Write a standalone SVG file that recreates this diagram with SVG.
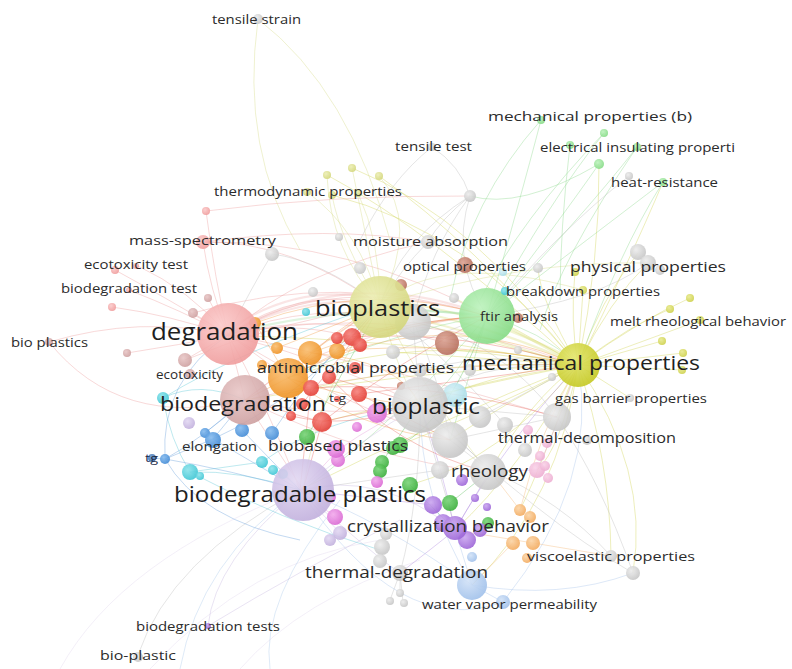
<svg xmlns="http://www.w3.org/2000/svg" width="792" height="669" viewBox="0 0 792 669">
<defs>
<radialGradient id="gK" cx=".38" cy=".35" r=".7"><stop offset="0" stop-color="#ececec"/><stop offset="1" stop-color="#c4c4c4"/></radialGradient>
<radialGradient id="gP" cx=".38" cy=".35" r=".7"><stop offset="0" stop-color="#fbcaca"/><stop offset="1" stop-color="#ef9a9a"/></radialGradient>
<radialGradient id="gD" cx=".38" cy=".35" r=".7"><stop offset="0" stop-color="#e8c6c6"/><stop offset="1" stop-color="#cc9e9e"/></radialGradient>
<radialGradient id="gR" cx=".38" cy=".35" r=".7"><stop offset="0" stop-color="#f6807a"/><stop offset="1" stop-color="#e23b32"/></radialGradient>
<radialGradient id="gO" cx=".38" cy=".35" r=".7"><stop offset="0" stop-color="#f9be70"/><stop offset="1" stop-color="#ee8f1e"/></radialGradient>
<radialGradient id="gY" cx=".38" cy=".35" r=".7"><stop offset="0" stop-color="#e4e770"/><stop offset="1" stop-color="#c3c71e"/></radialGradient>
<radialGradient id="gQ" cx=".38" cy=".35" r=".7"><stop offset="0" stop-color="#eceeb4"/><stop offset="1" stop-color="#d3d67a"/></radialGradient>
<radialGradient id="gL" cx=".38" cy=".35" r=".7"><stop offset="0" stop-color="#bcf2bc"/><stop offset="1" stop-color="#84da84"/></radialGradient>
<radialGradient id="gG" cx=".38" cy=".35" r=".7"><stop offset="0" stop-color="#78d478"/><stop offset="1" stop-color="#38ac38"/></radialGradient>
<radialGradient id="gC" cx=".38" cy=".35" r=".7"><stop offset="0" stop-color="#8ce3eb"/><stop offset="1" stop-color="#3cc5d3"/></radialGradient>
<radialGradient id="gI" cx=".38" cy=".35" r=".7"><stop offset="0" stop-color="#d6f1f6"/><stop offset="1" stop-color="#a6dbe8"/></radialGradient>
<radialGradient id="gB" cx=".38" cy=".35" r=".7"><stop offset="0" stop-color="#84baee"/><stop offset="1" stop-color="#3f88d4"/></radialGradient>
<radialGradient id="gN" cx=".38" cy=".35" r=".7"><stop offset="0" stop-color="#6a9ad0"/><stop offset="1" stop-color="#3a6aa8"/></radialGradient>
<radialGradient id="gV" cx=".38" cy=".35" r=".7"><stop offset="0" stop-color="#e2d8f2"/><stop offset="1" stop-color="#c0aedc"/></radialGradient>
<radialGradient id="gM" cx=".38" cy=".35" r=".7"><stop offset="0" stop-color="#f2aaec"/><stop offset="1" stop-color="#d966d2"/></radialGradient>
<radialGradient id="gU" cx=".38" cy=".35" r=".7"><stop offset="0" stop-color="#caa6ef"/><stop offset="1" stop-color="#9a62d6"/></radialGradient>
<radialGradient id="gS" cx=".38" cy=".35" r=".7"><stop offset="0" stop-color="#f9d2e8"/><stop offset="1" stop-color="#ecacd0"/></radialGradient>
<radialGradient id="gA" cx=".38" cy=".35" r=".7"><stop offset="0" stop-color="#fbd4a6"/><stop offset="1" stop-color="#f2a85a"/></radialGradient>
<radialGradient id="gW" cx=".38" cy=".35" r=".7"><stop offset="0" stop-color="#d2e2f7"/><stop offset="1" stop-color="#9ebfea"/></radialGradient>
<radialGradient id="gT" cx=".38" cy=".35" r=".7"><stop offset="0" stop-color="#daa292"/><stop offset="1" stop-color="#b46a58"/></radialGradient>
<radialGradient id="gZ" cx=".38" cy=".35" r=".7"><stop offset="0" stop-color="#e8ea90"/><stop offset="1" stop-color="#cdd04a"/></radialGradient>
</defs>
<style>
.e{fill:none;stroke-width:1;stroke-opacity:.4}
.w{stroke-width:2.2;stroke-opacity:.28}
.f{stroke-opacity:.22}
.ep{stroke:#eea0a0}.ey{stroke:#d2d558}.eq{stroke:#d8db8a}.eg{stroke:#8fd98f}.ek{stroke:#bdbdbd}
.eo{stroke:#f2a04a}.er{stroke:#e86a60}.ec{stroke:#5cc8d8}.eb{stroke:#6aa0dc}.el{stroke:#c7b8e0}
.em{stroke:#e39ad9}.eu{stroke:#b08adf}.ea{stroke:#f6b877}.ew{stroke:#a9c5ea}.eG{stroke:#5cc05c}
.K{fill:url(#gK)}.P{fill:url(#gP)}.D{fill:url(#gD)}.R{fill:url(#gR)}.O{fill:url(#gO)}.Y{fill:url(#gY)}
.Q{fill:url(#gQ)}.L{fill:url(#gL)}.G{fill:url(#gG)}.C{fill:url(#gC)}.I{fill:url(#gI)}.B{fill:url(#gB)}
.N{fill:url(#gN)}.V{fill:url(#gV)}.M{fill:url(#gM)}.U{fill:url(#gU)}.S{fill:url(#gS)}.A{fill:url(#gA)}
.W{fill:url(#gW)}.T{fill:url(#gT)}.Z{fill:url(#gZ)}
circle{fill-opacity:.9}
text{font-family:"Open Sans","Noto Sans","Liberation Sans",sans-serif;fill:#2b2b2b}
.big{fill:#1f1f1f}
</style>
<rect width="792" height="669" fill="#ffffff"/>
<g id="connectors">
<path class="e ep" d="M228,335 Q300,285 380,305"/>
<path class="e ep w" d="M228,335 Q305,292 380,305"/>
<path class="e ep w" d="M228,330 Q300,280 382,300"/>
<path class="e ep" d="M228,335 Q310,300 413,320"/>
<path class="e ep" d="M228,335 Q330,270 487,316"/>
<path class="e ep w" d="M228,335 Q350,262 487,316"/>
<path class="e ep" d="M228,335 Q400,300 578,365"/>
<path class="e ep" d="M228,335 Q330,360 420,405"/>
<path class="e ep" d="M228,335 Q260,390 300,490"/>
<path class="e ep" d="M228,335 L245,400"/>
<path class="e ep" d="M203,242 Q210,290 228,335"/>
<path class="e ep" d="M203,242 Q290,240 380,305"/>
<path class="e ep" d="M115,270 Q170,300 228,335"/>
<path class="e ep" d="M112,307 Q170,315 228,335"/>
<path class="e ep" d="M127,353 Q180,345 228,335"/>
<path class="e ep" d="M136,265 Q190,290 228,335"/>
<path class="e ep" d="M129,290 Q180,310 228,335"/>
<path class="e ep" d="M206,211 Q330,195 470,196"/>
<path class="e ep" d="M206,211 Q215,280 228,335"/>
<path class="e ep" d="M49,342 Q140,315 228,335"/>
<path class="e ep" d="M49,342 Q120,430 245,400"/>
<path class="e ep" d="M193,313 L228,335"/>
<path class="e ep" d="M208,298 L228,335"/>
<path class="e ep" d="M185,360 L228,335"/>
<path class="e ep" d="M245,400 Q330,330 487,316"/>
<path class="e ep" d="M245,400 Q310,350 380,305"/>
<path class="e ep" d="M245,400 Q330,420 420,405"/>
<path class="e ep" d="M203,242 Q330,225 428,242"/>
<path class="e ep" d="M228,334 Q330,400 450,440"/>
<path class="e ep" d="M228,334 Q400,370 557,417"/>
<path class="e ep" d="M228,334 L288,378"/>
<path class="e ep" d="M228,334 Q290,320 352,337"/>
<path class="e ep" d="M245,400 Q420,360 578,365"/>
<path class="e ep" d="M245,400 L303,490"/>
<path class="e ep" d="M245,400 Q370,460 488,472"/>
<path class="e ep" d="M185,360 Q280,320 380,307"/>
<path class="e ep" d="M193,313 Q340,270 487,316"/>
<path class="e ep" d="M203,242 Q350,240 487,316"/>
<path class="e ep" d="M228,334 Q300,270 428,242"/>
<path class="e ep" d="M228,334 Q330,310 447,343"/>
<path class="e ey" d="M578,365 Q640,320 690,298"/>
<path class="e ey" d="M578,365 Q630,325 670,309"/>
<path class="e ey" d="M578,365 L662,341"/>
<path class="e ey" d="M578,365 L683,353"/>
<path class="e ey" d="M578,365 L682,370"/>
<path class="e ey" d="M578,365 L698,321"/>
<path class="e ey" d="M578,365 Q570,320 575,272"/>
<path class="e ey" d="M578,365 L583,290"/>
<path class="e ey" d="M578,365 Q600,300 638,253"/>
<path class="e ey" d="M578,365 Q610,300 648,263"/>
<path class="e ey" d="M578,365 Q600,260 599,164"/>
<path class="e ey" d="M578,365 Q630,260 663,182"/>
<path class="e ey" d="M578,365 Q650,470 633,573"/>
<path class="e ey" d="M578,365 Q610,460 611,556"/>
<path class="e ey" d="M578,365 L630,398"/>
<path class="e ey" d="M578,365 L557,417"/>
<path class="e ey" d="M578,365 Q530,400 490,471"/>
<path class="e ey" d="M578,365 Q500,370 420,405"/>
<path class="e ey" d="M578,365 Q510,400 450,440"/>
<path class="e ey w" d="M578,365 Q480,320 380,305"/>
<path class="e ey w" d="M578,362 Q480,310 382,300"/>
<path class="e ey w" d="M578,368 Q470,330 380,310"/>
<path class="e ey w" d="M578,365 L487,316"/>
<path class="e ey" d="M578,365 Q470,230 332,195"/>
<path class="e ey" d="M578,365 Q480,220 352,168"/>
<path class="e ey" d="M578,365 Q470,240 379,176"/>
<path class="e ey" d="M578,365 Q430,230 327,175"/>
<path class="e ey" d="M578,365 Q520,470 455,530"/>
<path class="e ey" d="M578,365 Q560,500 472,585"/>
<path class="e ey" d="M578,365 Q440,420 300,490"/>
<path class="e ey" d="M578,365 Q420,330 288,378"/>
<path class="e ey" d="M578,365 Q400,340 228,335"/>
<path class="e ey" d="M578,365 Q560,450 537,470"/>
<path class="e ey" d="M578,365 Q540,470 520,510"/>
<path class="e ey" d="M578,365 Q450,390 322,422"/>
<path class="e ey" d="M578,365 Q440,360 311,388"/>
<path class="e ey" d="M578,365 Q490,410 400,445"/>
<path class="e ey" d="M578,365 Q480,380 377,413"/>
<path class="e ey" d="M578,365 Q410,370 245,400"/>
<path class="e ey" d="M578,365 L413,322"/>
<path class="e ey" d="M578,365 L393,352"/>
<path class="e ey" d="M578,365 L447,343"/>
<path class="e ey" d="M578,365 Q520,330 454,298"/>
<path class="e ey" d="M578,365 Q540,300 538,268"/>
<path class="e ey" d="M578,365 Q500,460 410,485"/>
<path class="e eq" d="M380,305 Q340,240 332,195"/>
<path class="e eq" d="M380,305 L352,168"/>
<path class="e eq" d="M380,305 Q360,230 307,192"/>
<path class="e eq" d="M380,305 Q420,220 379,176"/>
<path class="e eq" d="M380,305 Q380,240 358,193"/>
<path class="e eq" d="M380,305 Q330,250 327,175"/>
<path class="e eq" d="M258,19 Q240,150 300,250"/>
<path class="e eq" d="M258,19 Q350,90 390,240"/>
<path class="e eq" d="M380,305 Q440,250 583,290"/>
<path class="e eq" d="M380,305 Q520,260 648,263"/>
<path class="e eq" d="M380,305 Q400,380 420,405"/>
<path class="e eq" d="M380,305 Q320,380 303,490"/>
<path class="e eq" d="M380,305 Q430,400 488,472"/>
<path class="e eg" d="M487,316 Q520,200 541,120"/>
<path class="e eg" d="M487,316 Q550,200 604,133"/>
<path class="e eg" d="M487,316 Q560,220 599,164"/>
<path class="e eg" d="M487,316 Q580,220 637,147"/>
<path class="e eg" d="M487,316 Q600,230 663,182"/>
<path class="e eg" d="M599,164 Q520,210 470,196"/>
<path class="e eg" d="M541,120 Q470,200 450,300"/>
<path class="e eg" d="M570,145 Q560,230 560,300"/>
<path class="e eg" d="M663,182 Q620,250 578,365"/>
<path class="e eg" d="M604,133 Q520,220 480,300"/>
<path class="e eg" d="M637,147 Q560,260 540,330"/>
<path class="e eg w" d="M487,316 Q420,310 380,305"/>
<path class="e eg" d="M487,316 Q460,380 420,405"/>
<path class="e eg" d="M487,316 Q400,330 288,378"/>
<path class="e eg" d="M487,316 Q400,420 303,490"/>
<path class="e eg w" d="M487,316 Q360,300 228,334"/>
<path class="e eg" d="M487,316 L450,440"/>
<path class="e eg" d="M487,316 Q540,330 578,365"/>
<path class="e ek" d="M432,147 Q460,165 470,196"/>
<path class="e ek" d="M432,147 Q390,180 360,240"/>
<path class="e ek" d="M470,196 Q440,220 428,242"/>
<path class="e ek" d="M470,196 Q430,250 413,320"/>
<path class="e ek" d="M470,196 Q400,240 380,305"/>
<path class="e ek" d="M470,196 Q450,260 487,316"/>
<path class="e ek" d="M629,176 Q560,230 487,316"/>
<path class="e ek" d="M428,242 Q400,270 380,305"/>
<path class="e ek" d="M648,263 Q600,300 487,316"/>
<path class="e ek" d="M633,573 Q600,480 557,417"/>
<path class="e ek" d="M611,556 Q560,500 490,471"/>
<path class="e ek" d="M633,573 Q540,520 420,405"/>
<path class="e ek" d="M138,655 Q170,560 300,490"/>
<path class="e ek" d="M400,593 L400,573"/>
<path class="e ek" d="M390,600 L400,573"/>
<path class="e ek" d="M403,602 L400,573"/>
<path class="e ek" d="M400,573 Q420,500 420,405"/>
<path class="e ek" d="M272,254 Q320,260 380,305"/>
<path class="e ek" d="M272,254 Q250,290 228,335"/>
<path class="e ek" d="M413,320 Q440,380 450,440"/>
<path class="e ek" d="M420,405 Q460,440 490,471"/>
<path class="e ek" d="M420,405 L557,417"/>
<path class="e ek" d="M450,440 L490,471"/>
<path class="e ek" d="M420,405 Q470,360 578,365"/>
<path class="e ek" d="M413,322 Q500,340 557,417"/>
<path class="e ek" d="M450,440 L557,417"/>
<path class="e ek" d="M420,405 L455,528"/>
<path class="e ek" d="M480,417 L578,365"/>
<path class="e ek" d="M393,352 L487,316"/>
<path class="e ek" d="M420,370 Q500,350 578,365"/>
<path class="e ek" d="M440,470 L303,490"/>
<path class="e ek" d="M505,425 Q440,350 380,307"/>
<path class="e ek" d="M413,322 L420,405"/>
<path class="e el" d="M208,626 Q215,560 300,490"/>
<path class="e el" d="M208,626 Q300,570 400,520"/>
<path class="e el f" d="M60,669 Q120,560 300,490"/>
<path class="e el f" d="M150,669 Q250,560 380,540"/>
<path class="e el f" d="M240,669 Q300,600 420,560"/>
<path class="e el" d="M300,490 Q380,470 455,530"/>
<path class="e el" d="M300,490 Q360,440 420,405"/>
<path class="e el" d="M300,490 L340,533"/>
<path class="e el" d="M300,490 Q380,560 400,573"/>
<path class="e ec" d="M163,398 Q170,440 190,472"/>
<path class="e ec" d="M190,472 Q240,470 300,490"/>
<path class="e ec" d="M190,472 L262,462"/>
<path class="e ec" d="M163,398 Q200,380 245,400"/>
<path class="e ec" d="M262,462 Q320,420 420,405"/>
<path class="e ec" d="M283,474 L300,490"/>
<path class="e ec" d="M190,472 Q280,520 380,550"/>
<path class="e ec" d="M163,398 Q240,350 380,305"/>
<path class="e eb" d="M165,459 Q200,440 245,400"/>
<path class="e eb" d="M165,459 Q230,470 300,490"/>
<path class="e eb" d="M165,459 L213,439"/>
<path class="e eb" d="M213,439 L245,400"/>
<path class="e eb" d="M213,439 L300,490"/>
<path class="e eb" d="M242,430 L300,490"/>
<path class="e eb" d="M213,439 Q300,400 380,305"/>
<path class="e eb" d="M205,433 L245,400"/>
<path class="e eb" d="M165,459 Q160,380 228,335"/>
<path class="e eb" d="M165,459 Q200,520 300,540"/>
<path class="e eb" d="M272,433 Q320,360 380,305"/>
<path class="e eb" d="M151,458 L165,459"/>
<path class="e eb f" d="M300,490 Q200,560 180,669"/>
<path class="e eb f" d="M340,500 Q260,600 270,669"/>
<path class="e eo" d="M288,378 Q330,330 380,305"/>
<path class="e eo" d="M288,378 Q390,320 487,316"/>
<path class="e eo" d="M288,378 L245,400"/>
<path class="e eo" d="M310,353 L380,305"/>
<path class="e eo" d="M310,353 Q400,360 420,405"/>
<path class="e eo" d="M255,323 L288,378"/>
<path class="e eo" d="M288,378 Q350,400 420,405"/>
<path class="e eo" d="M288,378 Q430,300 578,365"/>
<path class="e eo" d="M310,353 Q400,320 487,316"/>
<path class="e eo" d="M277,348 L380,307"/>
<path class="e eo" d="M337,351 Q460,340 578,365"/>
<path class="e eo" d="M288,378 Q360,430 450,440"/>
<path class="e eo" d="M255,323 Q370,280 487,316"/>
<path class="e er" d="M352,337 Q420,320 487,316"/>
<path class="e er" d="M322,422 Q370,410 420,405"/>
<path class="e er" d="M329,377 L420,405"/>
<path class="e er" d="M359,394 Q470,380 578,365"/>
<path class="e er" d="M311,387 L300,490"/>
<path class="e er" d="M352,337 L380,305"/>
<path class="e er" d="M322,422 L245,400"/>
<path class="e er" d="M352,337 Q460,330 578,365"/>
<path class="e er" d="M322,422 Q400,360 487,316"/>
<path class="e er" d="M311,388 Q430,380 557,417"/>
<path class="e er" d="M329,377 Q400,450 488,472"/>
<path class="e er" d="M359,394 L450,440"/>
<path class="e er" d="M291,416 Q350,430 420,405"/>
<path class="e er" d="M337,338 L413,322"/>
<path class="e er" d="M302,404 L380,307"/>
<path class="e er" d="M322,422 L303,490"/>
<path class="e em" d="M338,450 Q380,420 420,405"/>
<path class="e em" d="M338,450 Q320,470 300,490"/>
<path class="e em" d="M377,413 L420,405"/>
<path class="e em" d="M335,517 L300,490"/>
<path class="e eG" d="M400,445 Q450,420 487,316"/>
<path class="e eG" d="M410,485 L455,530"/>
<path class="e eG" d="M450,503 L490,471"/>
<path class="e eG" d="M382,462 L420,405"/>
<path class="e eG" d="M307,437 L380,305"/>
<path class="e eu" d="M455,530 L490,471"/>
<path class="e eu" d="M455,530 Q430,550 400,573"/>
<path class="e eu" d="M455,530 Q500,450 578,365"/>
<path class="e eu" d="M433,505 L300,490"/>
<path class="e eu" d="M455,530 Q440,460 420,405"/>
<path class="e ea" d="M520,510 L490,471"/>
<path class="e ea" d="M533,543 L455,530"/>
<path class="e ea" d="M611,556 L533,543"/>
<path class="e ea" d="M513,543 L472,585"/>
<path class="e ea" d="M520,510 Q540,430 578,365"/>
<path class="e em" d="M537,470 Q560,420 578,365"/>
<path class="e em" d="M537,470 L490,471"/>
<path class="e ew" d="M472,585 L503,602"/>
<path class="e ew" d="M472,585 L455,530"/>
<path class="e ew" d="M472,585 Q560,600 633,573"/>
<path class="e ew" d="M472,585 Q420,500 420,405"/>
<path class="e ew" d="M503,602 Q600,480 578,365"/>
<path class="e ew" d="M472,585 Q380,520 300,490"/>
<path class="e ew" d="M503,602 Q400,640 300,490"/>
</g>
<g id="nodes-unlabeled">
<g id="u1"><circle class="L" cx="487" cy="316" r="28"/></g>
<g id="u2"><circle class="K" cx="413" cy="322" r="18"/></g>
<g id="u3"><circle class="K" cx="450" cy="440" r="18"/></g>
<g id="u4"><circle class="K" cx="557" cy="417" r="14"/></g>
<g id="u5"><circle class="K" cx="480" cy="417" r="11"/></g>
<g id="u6"><circle class="I" cx="455" cy="395" r="12"/></g>
<g id="u7"><circle class="W" cx="472" cy="585" r="15"/></g>
<g id="u8"><circle class="O" cx="288" cy="378" r="20"/></g>
<g id="u9"><circle class="O" cx="310" cy="353" r="12"/></g>
<g id="u10"><circle class="O" cx="337" cy="351" r="8"/></g>
<g id="u11"><circle class="O" cx="277" cy="348" r="6"/></g>
<g id="u12"><circle class="O" cx="255" cy="323" r="6"/></g>
<g id="u13"><circle class="O" cx="262" cy="365" r="5"/></g>
<g id="u14"><circle class="R" cx="352" cy="337" r="9"/></g>
<g id="u15"><circle class="R" cx="360" cy="345" r="7"/></g>
<g id="u16"><circle class="R" cx="329" cy="377" r="7"/></g>
<g id="u17"><circle class="R" cx="311" cy="388" r="8"/></g>
<g id="u18"><circle class="R" cx="359" cy="394" r="8"/></g>
<g id="u19"><circle class="R" cx="322" cy="422" r="10"/></g>
<g id="u20"><circle class="R" cx="291" cy="416" r="5"/></g>
<g id="u21"><circle class="R" cx="337" cy="338" r="6"/></g>
<g id="u22"><circle class="R" cx="302" cy="404" r="6"/></g>
<g id="u23"><circle class="T" cx="447" cy="343" r="12"/></g>
<g id="u24"><circle class="T" cx="401" cy="386" r="4"/></g>
<g id="u25"><circle class="T" cx="401" cy="285" r="6"/></g>
<g id="u26"><circle class="K" cx="470" cy="196" r="6"/></g>
<g id="u27"><circle class="K" cx="272" cy="254" r="7"/></g>
<g id="u28"><circle class="K" cx="339" cy="237" r="4"/></g>
<g id="u29"><circle class="K" cx="360" cy="268" r="6"/></g>
<g id="u30"><circle class="K" cx="538" cy="268" r="5"/></g>
<g id="u31"><circle class="K" cx="638" cy="252" r="8"/></g>
<g id="u32"><circle class="K" cx="660" cy="270" r="5"/></g>
<g id="u33"><circle class="K" cx="313" cy="292" r="5"/></g>
<g id="u34"><circle class="K" cx="454" cy="298" r="5"/></g>
<g id="u35"><circle class="K" cx="393" cy="352" r="7"/></g>
<g id="u36"><circle class="K" cx="518" cy="350" r="4"/></g>
<g id="u37"><circle class="K" cx="552" cy="377" r="4"/></g>
<g id="u38"><circle class="K" cx="505" cy="425" r="8"/></g>
<g id="u39"><circle class="K" cx="525" cy="450" r="7"/></g>
<g id="u40"><circle class="K" cx="440" cy="470" r="9"/></g>
<g id="u41"><circle class="K" cx="382" cy="547" r="8"/></g>
<g id="u42"><circle class="K" cx="380" cy="561" r="7"/></g>
<g id="u43"><circle class="K" cx="400" cy="593" r="4"/></g>
<g id="u44"><circle class="K" cx="390" cy="601" r="4"/></g>
<g id="u45"><circle class="K" cx="404" cy="603" r="4"/></g>
<g id="u46"><circle class="K" cx="633" cy="573" r="7"/></g>
<g id="u47"><circle class="K" cx="629" cy="176" r="4"/></g>
<g id="u48"><circle class="K" cx="386" cy="534" r="6"/></g>
<g id="u49"><circle class="K" cx="470" cy="370" r="6"/></g>
<g id="u50"><circle class="K" cx="420" cy="370" r="7"/></g>
<g id="u51"><circle class="C" cx="306" cy="312" r="4"/></g>
<g id="u52"><circle class="C" cx="163" cy="398" r="6"/></g>
<g id="u53"><circle class="C" cx="190" cy="472" r="8"/></g>
<g id="u54"><circle class="C" cx="262" cy="462" r="6"/></g>
<g id="u55"><circle class="C" cx="273" cy="470" r="5"/></g>
<g id="u56"><circle class="C" cx="283" cy="474" r="5"/></g>
<g id="u57"><circle class="C" cx="200" cy="476" r="4"/></g>
<g id="u58"><circle class="C" cx="505" cy="291" r="4"/></g>
<g id="u59"><circle class="I" cx="503" cy="272" r="4"/></g>
<g id="u60"><circle class="B" cx="205" cy="433" r="5"/></g>
<g id="u61"><circle class="B" cx="242" cy="430" r="7"/></g>
<g id="u62"><circle class="B" cx="272" cy="433" r="7"/></g>
<g id="u63"><circle class="B" cx="165" cy="459" r="5"/></g>
<g id="u64"><circle class="V" cx="189" cy="423" r="6"/></g>
<g id="u65"><circle class="V" cx="340" cy="533" r="7"/></g>
<g id="u66"><circle class="V" cx="330" cy="540" r="6"/></g>
<g id="u67"><circle class="G" cx="307" cy="437" r="8"/></g>
<g id="u68"><circle class="G" cx="400" cy="445" r="8"/></g>
<g id="u69"><circle class="G" cx="382" cy="462" r="7"/></g>
<g id="u70"><circle class="G" cx="380" cy="471" r="7"/></g>
<g id="u71"><circle class="G" cx="410" cy="485" r="8"/></g>
<g id="u72"><circle class="G" cx="450" cy="503" r="8"/></g>
<g id="u73"><circle class="G" cx="488" cy="523" r="6"/></g>
<g id="u74"><circle class="G" cx="393" cy="448" r="7"/></g>
<g id="u75"><circle class="L" cx="604" cy="133" r="4"/></g>
<g id="u76"><circle class="L" cx="637" cy="147" r="4"/></g>
<g id="u77"><circle class="L" cx="599" cy="164" r="5"/></g>
<g id="u78"><circle class="M" cx="377" cy="413" r="10"/></g>
<g id="u79"><circle class="M" cx="357" cy="427" r="5"/></g>
<g id="u80"><circle class="M" cx="338" cy="460" r="7"/></g>
<g id="u81"><circle class="M" cx="377" cy="482" r="6"/></g>
<g id="u82"><circle class="M" cx="335" cy="517" r="8"/></g>
<g id="u83"><circle class="M" cx="330" cy="497" r="6"/></g>
<g id="u84"><circle class="U" cx="462" cy="480" r="6"/></g>
<g id="u85"><circle class="U" cx="475" cy="498" r="4"/></g>
<g id="u86"><circle class="U" cx="487" cy="507" r="4"/></g>
<g id="u87"><circle class="U" cx="433" cy="505" r="9"/></g>
<g id="u88"><circle class="U" cx="443" cy="523" r="9"/></g>
<g id="u89"><circle class="U" cx="467" cy="540" r="9"/></g>
<g id="u90"><circle class="U" cx="480" cy="530" r="7"/></g>
<g id="u91"><circle class="S" cx="537" cy="470" r="8"/></g>
<g id="u92"><circle class="S" cx="545" cy="466" r="5"/></g>
<g id="u93"><circle class="S" cx="540" cy="456" r="5"/></g>
<g id="u94"><circle class="S" cx="548" cy="478" r="5"/></g>
<g id="u95"><circle class="S" cx="528" cy="430" r="5"/></g>
<g id="u96"><circle class="S" cx="547" cy="443" r="5"/></g>
<g id="u97"><circle class="A" cx="520" cy="510" r="6"/></g>
<g id="u98"><circle class="A" cx="530" cy="517" r="6"/></g>
<g id="u99"><circle class="A" cx="513" cy="543" r="7"/></g>
<g id="u100"><circle class="A" cx="533" cy="543" r="7"/></g>
<g id="u101"><circle class="A" cx="527" cy="558" r="5"/></g>
<g id="u102"><circle class="W" cx="472" cy="557" r="5"/></g>
<g id="u103"><circle class="P" cx="115" cy="270" r="4"/></g>
<g id="u104"><circle class="P" cx="112" cy="307" r="4"/></g>
<g id="u105"><circle class="P" cx="206" cy="211" r="4"/></g>
<g id="u106"><circle class="D" cx="127" cy="353" r="4"/></g>
<g id="u107"><circle class="D" cx="185" cy="360" r="7"/></g>
<g id="u108"><circle class="D" cx="193" cy="313" r="5"/></g>
<g id="u109"><circle class="D" cx="208" cy="298" r="4"/></g>
<g id="u110"><circle class="Z" cx="690" cy="298" r="4"/></g>
<g id="u111"><circle class="Z" cx="670" cy="309" r="4"/></g>
<g id="u112"><circle class="Z" cx="662" cy="341" r="4"/></g>
<g id="u113"><circle class="Z" cx="683" cy="353" r="4"/></g>
<g id="u114"><circle class="Z" cx="682" cy="370" r="4"/></g>
<g id="u115"><circle class="Z" cx="575" cy="272" r="4"/></g>
<g id="u116"><circle class="Q" cx="327" cy="175" r="4"/></g>
<g id="u117"><circle class="Q" cx="352" cy="168" r="4"/></g>
<g id="u118"><circle class="Q" cx="379" cy="176" r="4"/></g>
<g id="u119"><circle class="Q" cx="307" cy="192" r="4"/></g>
<g id="u120"><circle class="Q" cx="358" cy="193" r="4"/></g>
</g>
<g id="nodes-labeled">
<g id="n-tensile-strain"><circle class="K" cx="258" cy="19" r="5"/><text x="212" y="23.5" font-size="12.5" textLength="89" lengthAdjust="spacingAndGlyphs">tensile strain</text></g>
<g id="n-mechanical-properties-b"><circle class="L" cx="541" cy="120" r="4"/><text x="488" y="120.5" font-size="12.5" textLength="204" lengthAdjust="spacingAndGlyphs">mechanical properties (b)</text></g>
<g id="n-tensile-test"><circle class="K" cx="432" cy="147" r="4"/><text x="395" y="150.5" font-size="12.5" textLength="77" lengthAdjust="spacingAndGlyphs">tensile test</text></g>
<g id="n-electrical"><circle class="L" cx="570" cy="145" r="4"/><text x="540" y="151.5" font-size="13" textLength="195" lengthAdjust="spacingAndGlyphs">electrical insulating properti</text></g>
<g id="n-heat-resistance"><circle class="L" cx="663" cy="182" r="4"/><text x="611" y="186.5" font-size="12.5" textLength="107" lengthAdjust="spacingAndGlyphs">heat-resistance</text></g>
<g id="n-thermodynamic"><circle class="Q" cx="332" cy="195" r="4"/><text x="214" y="195.5" font-size="12.5" textLength="188" lengthAdjust="spacingAndGlyphs">thermodynamic properties</text></g>
<g id="n-mass-spectrometry"><circle class="P" cx="203" cy="242" r="7"/><text x="129" y="244.5" font-size="13" textLength="147" lengthAdjust="spacingAndGlyphs">mass-spectrometry</text></g>
<g id="n-moisture-absorption"><circle class="K" cx="428" cy="242" r="7"/><text x="353" y="245.5" font-size="13" textLength="155" lengthAdjust="spacingAndGlyphs">moisture absorption</text></g>
<g id="n-ecotoxicity-test"><circle class="P" cx="136" cy="266" r="3"/><text x="84" y="268.5" font-size="12" textLength="104" lengthAdjust="spacingAndGlyphs">ecotoxicity test</text></g>
<g id="n-optical-properties"><circle class="T" cx="465" cy="265" r="8"/><text x="403" y="270.5" font-size="12.5" textLength="123" lengthAdjust="spacingAndGlyphs">optical properties</text></g>
<g id="n-physical-properties"><circle class="K" cx="648" cy="263" r="8"/><text x="570" y="271.5" font-size="15" textLength="156" lengthAdjust="spacingAndGlyphs">physical properties</text></g>
<g id="n-biodegradation-test"><circle class="P" cx="129" cy="290" r="3"/><text x="61" y="293" font-size="12" textLength="136" lengthAdjust="spacingAndGlyphs">biodegradation test</text></g>
<g id="n-breakdown-properties"><circle class="Z" cx="583" cy="290" r="4"/><text x="506" y="295.5" font-size="12" textLength="154" lengthAdjust="spacingAndGlyphs">breakdown properties</text></g>
<g id="n-ftir-analysis"><circle class="T" cx="518" cy="318" r="5"/><text x="480" y="320.5" font-size="12" textLength="78" lengthAdjust="spacingAndGlyphs">ftir analysis</text></g>
<g id="n-melt-rheological"><circle class="Z" cx="700" cy="320" r="4"/><text x="610" y="325.5" font-size="12.5" textLength="176" lengthAdjust="spacingAndGlyphs">melt rheological behavior</text></g>
<g id="n-bio-plastics"><circle class="D" cx="49" cy="342" r="4"/><text x="11" y="346.5" font-size="12.5" textLength="77" lengthAdjust="spacingAndGlyphs">bio plastics</text></g>
<g id="n-ecotoxicity"><circle class="D" cx="190" cy="374" r="5"/><text x="156" y="378.5" font-size="12.5" textLength="67" lengthAdjust="spacingAndGlyphs">ecotoxicity</text></g>
<g id="n-t-g"><circle class="R" cx="337" cy="399" r="3"/><text x="329" y="402" font-size="11" textLength="17" lengthAdjust="spacingAndGlyphs">t-g</text></g>
<g id="n-gas-barrier"><circle class="K" cx="630" cy="398" r="4"/><text x="555" y="402.5" font-size="12.5" textLength="152" lengthAdjust="spacingAndGlyphs">gas barrier properties</text></g>
<g id="n-elongation"><circle class="B" cx="213" cy="440" r="8"/><text x="182" y="450.5" font-size="12" textLength="75" lengthAdjust="spacingAndGlyphs">elongation</text></g>
<g id="n-thermal-decomposition"><circle class="K" cx="587" cy="440" r="5"/><text x="498" y="443" font-size="14" textLength="178" lengthAdjust="spacingAndGlyphs">thermal-decomposition</text></g>
<g id="n-tg"><circle class="N" cx="152" cy="458" r="4"/><text x="145" y="461.5" font-size="11" textLength="13" lengthAdjust="spacingAndGlyphs" style="fill:#1c2c48">tg</text></g>
<g id="n-viscoelastic"><circle class="K" cx="611" cy="556" r="6"/><text x="527" y="561" font-size="13.5" textLength="168" lengthAdjust="spacingAndGlyphs">viscoelastic properties</text></g>
<g id="n-water-vapor"><circle class="W" cx="503" cy="602" r="7"/><text x="422" y="608.5" font-size="12.5" textLength="175" lengthAdjust="spacingAndGlyphs">water vapor permeability</text></g>
<g id="n-biodegradation-tests"><circle class="U" cx="208" cy="626" r="3"/><text x="136" y="630.5" font-size="12.5" textLength="144" lengthAdjust="spacingAndGlyphs">biodegradation tests</text></g>
<g id="n-bio-plastic"><circle class="K" cx="138" cy="657" r="5"/><text x="100" y="659.5" font-size="12.5" textLength="76" lengthAdjust="spacingAndGlyphs">bio-plastic</text></g>
<g id="n-biobased-plastics"><circle class="M" cx="336" cy="449" r="9"/><text x="268" y="451" font-size="14.5" textLength="140" lengthAdjust="spacingAndGlyphs">biobased plastics</text></g>
<g id="n-antimicrobial"><circle class="R" cx="355" cy="368" r="6"/><text x="257" y="372.5" font-size="15" textLength="197" lengthAdjust="spacingAndGlyphs">antimicrobial properties</text></g>
<g id="n-rheology"><circle class="K" cx="488" cy="472" r="18"/><text x="451" y="477" font-size="16" textLength="77" lengthAdjust="spacingAndGlyphs">rheology</text></g>
<g id="n-crystallization"><circle class="U" cx="455" cy="528" r="12"/><text x="347" y="532" font-size="16" textLength="202" lengthAdjust="spacingAndGlyphs">crystallization behavior</text></g>
<g id="n-thermal-degradation"><circle class="K" cx="400" cy="573" r="8"/><text x="305" y="578" font-size="16.5" textLength="183" lengthAdjust="spacingAndGlyphs">thermal-degradation</text></g>
<g id="n-biodegradation"><circle class="D" cx="245" cy="400" r="25"/><text class="big" x="160" y="411" font-size="20" textLength="166" lengthAdjust="spacingAndGlyphs">biodegradation</text></g>
<g id="n-mechanical-properties"><circle class="Y" cx="578" cy="365" r="22"/><text class="big" x="462" y="370" font-size="20" textLength="238" lengthAdjust="spacingAndGlyphs">mechanical properties</text></g>
<g id="n-biodegradable-plastics"><circle class="V" cx="303" cy="490" r="31"/><text class="big" x="174" y="501.5" font-size="21" textLength="252" lengthAdjust="spacingAndGlyphs">biodegradable plastics</text></g>
<g id="n-bioplastic"><circle class="K" cx="420" cy="405" r="28"/><text class="big" x="372" y="414" font-size="22" textLength="108" lengthAdjust="spacingAndGlyphs">bioplastic</text></g>
<g id="n-bioplastics"><circle class="Q" cx="380" cy="307" r="31"/><text class="big" x="315" y="316" font-size="22" textLength="125" lengthAdjust="spacingAndGlyphs">bioplastics</text></g>
<g id="n-degradation"><circle class="P" cx="228" cy="334" r="31"/><text class="big" x="151" y="340" font-size="23" textLength="147" lengthAdjust="spacingAndGlyphs">degradation</text></g>
</g>
</svg>
